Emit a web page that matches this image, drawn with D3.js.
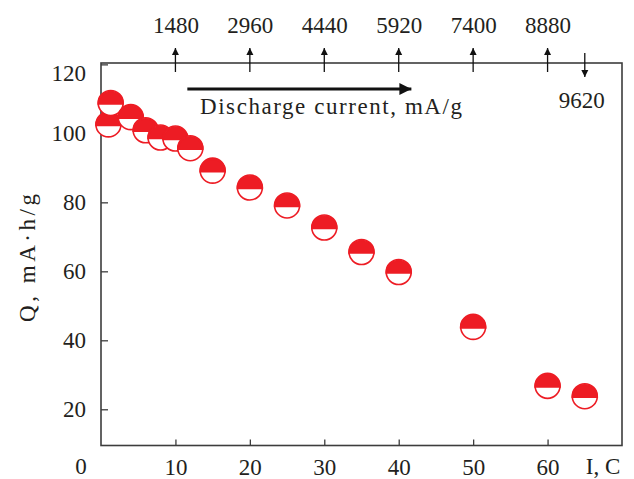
<!DOCTYPE html>
<html>
<head>
<meta charset="utf-8">
<script src="https://cdn.jsdelivr.net/npm/d3@7"></script>
<style>
  body { margin: 0; background: #fff; }
  text { font-family: "Liberation Serif", "DejaVu Serif", serif; fill: #231f20; }
</style>
</head>
<body>
<svg id="drawing_region"></svg>
<script>
// discharge rate (C) and capacity (mA·h/g)
const rateC = [1, 1.3, 4, 6, 8, 10, 12, 15, 20, 25, 30, 35, 40, 50, 60, 65];
const capacity = [102.6, 108.8, 104.7, 100.9, 98.8, 98.5, 95.7, 89.2, 84.3, 79.1, 72.7, 65.6, 59.8, 43.9, 26.8, 23.8];

const xTicks = [10, 20, 30, 40, 50, 60];
const yTicks = [20, 40, 60, 80, 100, 120];
const currentTicks = [1480, 2960, 4440, 5920, 7400, 8880];
const maxCurrent = 9620;
const mAperC = 148;

const width = 634;
const height = 479;
const margin = {top: 63, right: 12, bottom: 33.5, left: 101};
const red = '#ed1c24';
const axisColor = '#3d3d3d';
const fontSize = 23;

const svg = d3.select('#drawing_region')
    .attr('width', width)
    .attr('height', height);

const inner_width = width - margin.left - margin.right;
const inner_height = height - margin.top - margin.bottom;

const chart = svg.append('g')
    .attr('transform', `translate(${margin.left}, ${margin.top})`);

const xscale = d3.scaleLinear()
    .domain([0, 70])
    .range([0, inner_width]);

const yscale = d3.scaleLinear()
    .domain([9.5, 120.4])
    .range([inner_height, 0]);

// top scale: discharge current, mA/g
const xtop = d3.scaleLinear()
    .domain([0, 70 * mAperC])
    .range([0, inner_width]);

// arrow heads
const defs = svg.append('defs');
defs.append('marker')
    .attr('id', 'tip')
    .attr('viewBox', '0 0 10 10')
    .attr('refX', 10).attr('refY', 5)
    .attr('markerWidth', 7).attr('markerHeight', 9)
    .attr('markerUnits', 'userSpaceOnUse')
    .attr('orient', 'auto')
    .append('path')
    .attr('d', 'M0,0 L10,5 L0,10 Z')
    .attr('fill', '#111');
defs.append('marker')
    .attr('id', 'bigtip')
    .attr('viewBox', '0 0 10 10')
    .attr('refX', 10).attr('refY', 5)
    .attr('markerWidth', 18).attr('markerHeight', 12)
    .attr('markerUnits', 'userSpaceOnUse')
    .attr('orient', 'auto')
    .append('path')
    .attr('d', 'M0,0 L10,5 L0,10 Z')
    .attr('fill', '#111');

// axes
const xaxis = d3.axisBottom(xscale)
    .tickValues(xTicks)
    .tickSize(-6)
    .tickSizeOuter(0)
    .tickPadding(13);

const yaxis = d3.axisLeft(yscale)
    .tickValues(yTicks)
    .tickSize(-7)
    .tickSizeOuter(0)
    .tickPadding(15);

const topaxis = d3.axisTop(xtop)
    .tickValues(currentTicks)
    .tickFormat(d3.format('d'))
    .tickSize(0)
    .tickPadding(30);

const xg = chart.append('g')
    .attr('transform', `translate(0, ${inner_height})`)
    .call(xaxis);
const yg = chart.append('g').call(yaxis);
const tg = chart.append('g').call(topaxis);

[xg, yg, tg].forEach(g => {
    g.attr('font-family', null).attr('font-size', null);
    g.select('.domain').remove();
    g.selectAll('.tick line').attr('stroke', axisColor).attr('stroke-width', 1.3);
    g.selectAll('.tick text')
        .style('font-size', fontSize + 'px')
        .attr('fill', '#231f20');
});
// 120 label sits a little lower in the original
yg.selectAll('.tick text').filter(d => d === 120).attr('dy', '0.7em');

// frame
chart.append('rect')
    .attr('width', inner_width)
    .attr('height', inner_height)
    .attr('fill', 'none')
    .attr('stroke', axisColor)
    .attr('stroke-width', 1.6);

// top arrows
chart.selectAll('.cur-arrow')
    .data(currentTicks)
    .enter().append('line')
    .attr('class', 'cur-arrow')
    .attr('x1', d => xtop(d)).attr('x2', d => xtop(d))
    .attr('y1', 9).attr('y2', -15)
    .attr('stroke', '#111')
    .attr('stroke-width', 1.3)
    .attr('marker-end', 'url(#tip)');

chart.append('line')
    .attr('x1', xtop(maxCurrent)).attr('x2', xtop(maxCurrent))
    .attr('y1', -10).attr('y2', 14)
    .attr('stroke', '#111')
    .attr('stroke-width', 1.3)
    .attr('marker-end', 'url(#tip)');

chart.append('text')
    .attr('x', xtop(maxCurrent) - 3)
    .attr('y', 45)
    .attr('text-anchor', 'middle')
    .style('font-size', fontSize + 'px')
    .text(maxCurrent);

// discharge current arrow + label
chart.append('line')
    .attr('x1', xscale(11.6)).attr('x2', xscale(41.7))
    .attr('y1', 26).attr('y2', 26)
    .attr('stroke', '#111')
    .attr('stroke-width', 3)
    .attr('marker-end', 'url(#bigtip)');

chart.append('text')
    .attr('x', xscale(13.3))
    .attr('y', 51)
    .attr('textLength', 262)
    .style('font-size', fontSize + 'px')
    .text('Discharge current, mA/g');

// axis titles
svg.append('text')
    .attr('transform', 'translate(35, 258) rotate(-90)')
    .attr('text-anchor', 'middle')
    .attr('textLength', 128)
    .style('font-size', fontSize + 'px')
    .text('Q, mA·h/g');

svg.append('text')
    .attr('x', 603)
    .attr('y', 474)
    .attr('text-anchor', 'middle')
    .style('font-size', fontSize + 'px')
    .text('I, C');

svg.append('text')
    .attr('x', 81)
    .attr('y', 474)
    .attr('text-anchor', 'middle')
    .style('font-size', fontSize + 'px')
    .text('0');

// markers: half-filled circles
const r = 12.5;
const pts = rateC.map((c, i) => ({c: c, q: capacity[i]}));
const mk = chart.selectAll('.pt')
    .data(pts)
    .enter().append('g')
    .attr('class', 'pt')
    .attr('transform', d => `translate(${xscale(d.c)}, ${yscale(d.q)})`);

mk.append('circle')
    .attr('r', r)
    .attr('fill', '#fff')
    .attr('stroke', red)
    .attr('stroke-width', 1.6);

mk.append('path')
    .attr('d', `M${-r},1 A${r},${r} 0 0 1 ${r},1 Z`)
    .attr('fill', red)
    .attr('stroke', red)
    .attr('stroke-width', 1.6);
</script>
</body>
</html>
